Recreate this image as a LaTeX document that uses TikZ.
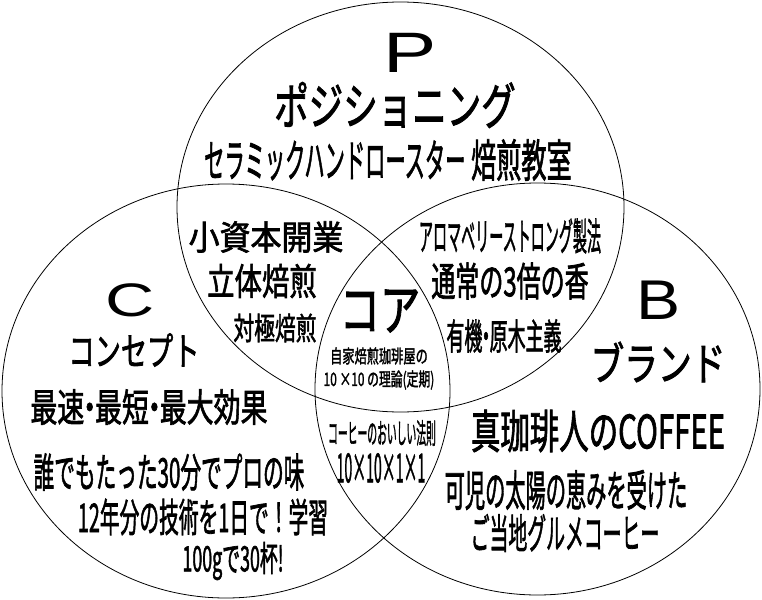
\documentclass[tikz,border=0pt]{standalone}
\usepackage{fontspec}
\setmainfont{Noto Sans CJK JP}[FakeBold=2]
\newfontfamily\latinfont{Liberation Sans}
\newcommand\jt[3]{\scalebox{#1}[1]{\fontsize{#2pt}{#2pt}\selectfont #3}}
\newcommand\lt[3]{\scalebox{#1}[1]{\fontsize{#2pt}{#2pt}\selectfont\latinfont #3}}
\newcommand\dt{\kern-0.3em・\kern-0.3em}
\begin{document}
\begin{tikzpicture}[x=1pt,y=-1pt,
  txt/.style={inner sep=0pt, anchor=center},
  ring/.style={draw=black, line width=0.8pt}]
\useasboundingbox (0,0) rectangle (762,599);
\fill[white] (0,0) rectangle (762,599);
% circles
\draw[ring] (400.5,207) ellipse [x radius=223.5pt, y radius=205pt];
\draw[ring] (226,391) ellipse [x radius=224pt, y radius=207pt];
\draw[ring] (537.5,389) ellipse [x radius=222.5pt, y radius=206pt];
% P
\node[txt] (p) at (410,53) {\lt{1.4}{57}{P}};
\node[txt] (pos) at (395,105) {\jt{0.69}{50}{ポジショニング}};
\node[txt] (cer) at (388,160) {\jt{0.45}{45}{セラミックハンドロースター}\jt{0.56}{45}{ 焙煎教室}};
% P & C
\node[txt] (sho) at (266,237) {\jt{0.91}{34}{小資本開業}};
\node[txt] (rit) at (262,281) {\jt{0.74}{37}{立体焙煎}};
\node[txt] (tai) at (275,328) {\jt{0.67}{31}{対極焙煎}};
% P & B
\node[txt] (aro) at (510,236) {\jt{0.37}{38}{アロマベリーストロング製法}};
\node[txt] (tsu) at (510,281) {\jt{0.60}{40}{通常の3倍の香}};
\node[txt] (yuk) at (504,336) {\jt{0.50}{36}{有機\dt 原木主義}};
% core
\node[txt] (core) at (380,311) {\jt{0.72}{56}{コア}};
\node[txt] (jik) at (379,356) {\jt{0.66}{18.5}{自家焙煎珈琲屋の}};
\node[txt] (rir) at (379,380) {\jt{0.64}{18.5}{10 ×10 の理論(定期)}};
% C & B
\node[txt] (kou) at (382,433) {\jt{0.35}{28}{コーヒーのおいしい法則}};
\node[txt] (jyu) at (381,468) {\jt{0.35}{40}{10×10×1×1}};
% C
\node[txt] (c) at (130,300) {\lt{1.45}{47}{C}};
\node[txt] (con) at (134,350) {\jt{0.68}{38.5}{コンセプト}};
\node[txt] (sai) at (149,407) {\jt{0.70}{38.5}{最速\dt 最短\dt 最大効果}};
\node[txt] (dar) at (169,472) {\jt{0.51}{40.5}{誰でもたった30分でプロの味}};
\node[txt] (jun) at (203,517) {\jt{0.50}{39.5}{12年分の技術を1日で！学習}};
\node[txt] (hya) at (233,561) {\jt{0.51}{35}{100gで30杯!}};
% B
\node[txt] (b) at (659,300) {\lt{1.18}{56}{B}};
\node[txt] (bra) at (658,362) {\jt{0.75}{45}{ブランド}};
\node[txt] (shi) at (598,431) {\jt{0.64}{46}{真珈琲人のCOFFEE}};
\node[txt] (kan) at (566,490) {\jt{0.47}{43}{可児の太陽の恵みを受けた}};
\node[txt] (got) at (565,533) {\jt{0.46}{41}{ご当地グルメコーヒー}};
\end{tikzpicture}
\end{document}
